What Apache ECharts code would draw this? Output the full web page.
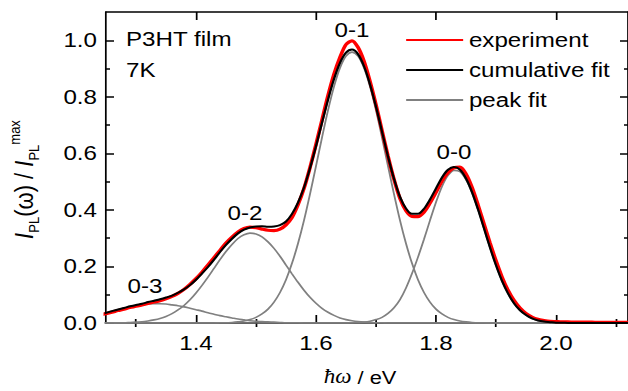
<!DOCTYPE html>
<html>
<head>
<meta charset="utf-8">
<title>P3HT film PL spectrum</title>
<script src="https://cdn.jsdelivr.net/npm/echarts@6/dist/echarts.min.js"></script>
<style>
  html, body { margin: 0; padding: 0; background: #fff; overflow: hidden; }
  /* the original figure is stretched horizontally, so the chart is drawn narrower and widened */
  #chart { width: 546px; height: 391px; transform: scaleX(1.15018); transform-origin: 0 0; }
</style>
</head>
<body>
<div id="chart"></div>
<script>
// photon energy (eV), 0.01 eV steps
const energy = [
  1.24, 1.25, 1.26, 1.27, 1.28, 1.29, 1.30, 1.31, 1.32, 1.33,
  1.34, 1.35, 1.36, 1.37, 1.38, 1.39, 1.40, 1.41, 1.42, 1.43,
  1.44, 1.45, 1.46, 1.47, 1.48, 1.49, 1.50, 1.51, 1.52, 1.53,
  1.54, 1.55, 1.56, 1.57, 1.58, 1.59, 1.60, 1.61, 1.62, 1.63,
  1.64, 1.65, 1.66, 1.67, 1.68, 1.69, 1.70, 1.71, 1.72, 1.73,
  1.74, 1.75, 1.76, 1.77, 1.78, 1.79, 1.80, 1.81, 1.82, 1.83,
  1.84, 1.85, 1.86, 1.87, 1.88, 1.89, 1.90, 1.91, 1.92, 1.93,
  1.94, 1.95, 1.96, 1.97, 1.98, 1.99, 2.00, 2.01, 2.02, 2.03,
  2.04, 2.05, 2.06, 2.07, 2.08, 2.09, 2.10, 2.11, 2.12, 2.13, 2.14];

const experiment = [
  0.029, 0.033, 0.038, 0.044, 0.049, 0.055, 0.059, 0.064, 0.069, 0.074,
  0.079, 0.086, 0.094, 0.105, 0.119, 0.137, 0.157, 0.180, 0.205, 0.231,
  0.257, 0.283, 0.304, 0.322, 0.334, 0.339, 0.337, 0.332, 0.328, 0.327,
  0.332, 0.347, 0.373, 0.418, 0.476, 0.550, 0.632, 0.718, 0.804, 0.880,
  0.940, 0.985, 0.998, 0.975, 0.926, 0.855, 0.772, 0.681, 0.590, 0.508,
  0.440, 0.397, 0.377, 0.376, 0.392, 0.424, 0.462, 0.502, 0.532, 0.549,
  0.551, 0.527, 0.480, 0.418, 0.350, 0.283, 0.220, 0.163, 0.116, 0.080,
  0.053, 0.034, 0.021, 0.013, 0.009, 0.006, 0.005, 0.004, 0.004, 0.003,
  0.003, 0.003, 0.003, 0.002, 0.002, 0.002, 0.002, 0.002, 0.002, 0.002, 0.002];

const cumulativeFit = [
  0.031, 0.036, 0.042, 0.048, 0.053, 0.059, 0.064, 0.068, 0.074, 0.079,
  0.084, 0.090, 0.097, 0.107, 0.119, 0.134, 0.153, 0.175, 0.198, 0.224,
  0.251, 0.276, 0.298, 0.317, 0.330, 0.338, 0.341, 0.342, 0.340, 0.341,
  0.346, 0.359, 0.386, 0.426, 0.479, 0.547, 0.625, 0.708, 0.790, 0.863,
  0.920, 0.956, 0.967, 0.951, 0.908, 0.844, 0.765, 0.677, 0.589, 0.510,
  0.446, 0.405, 0.386, 0.386, 0.404, 0.437, 0.476, 0.515, 0.542, 0.552,
  0.542, 0.511, 0.463, 0.402, 0.335, 0.267, 0.204, 0.149, 0.105, 0.070,
  0.045, 0.028, 0.016, 0.009, 0.005, 0.003, 0.001, 0.001, 0, 0,
  0, 0, 0, 0, 0, 0, 0, 0, 0, 0, 0];

// component peaks of the fit
const peak03 = [
  0.031, 0.036, 0.042, 0.047, 0.052, 0.057, 0.061, 0.064, 0.067, 0.068,
  0.068, 0.067, 0.064, 0.061, 0.057, 0.052, 0.047, 0.042, 0.036, 0.031,
  0.026, 0.022, 0.018, 0.014, 0.011, 0.008, 0.006, 0.005, 0.004, 0.003,
  0.002, 0.001, 0.001, 0.001, 0, 0, 0, 0, 0, 0,
  0, 0, 0, 0, 0, 0, 0, 0, 0, 0,
  0, 0, 0, 0, 0, 0, 0, 0, 0, 0,
  0, 0, 0, 0, 0, 0, 0, 0, 0, 0,
  0, 0, 0, 0, 0, 0, 0, 0, 0, 0,
  0, 0, 0, 0, 0, 0, 0, 0, 0, 0, 0];

const peak02 = [
  0, 0, 0, 0.001, 0.001, 0.002, 0.003, 0.004, 0.007, 0.011,
  0.016, 0.023, 0.033, 0.046, 0.062, 0.082, 0.106, 0.133, 0.162, 0.193,
  0.224, 0.253, 0.278, 0.299, 0.312, 0.318, 0.315, 0.305, 0.287, 0.264,
  0.236, 0.205, 0.174, 0.144, 0.116, 0.091, 0.070, 0.052, 0.038, 0.027,
  0.018, 0.012, 0.008, 0.005, 0.003, 0.002, 0.001, 0.001, 0, 0,
  0, 0, 0, 0, 0, 0, 0, 0, 0, 0,
  0, 0, 0, 0, 0, 0, 0, 0, 0, 0,
  0, 0, 0, 0, 0, 0, 0, 0, 0, 0,
  0, 0, 0, 0, 0, 0, 0, 0, 0, 0, 0];

const peak01 = [
  0, 0, 0, 0, 0, 0, 0, 0, 0, 0,
  0, 0, 0, 0, 0, 0, 0, 0, 0, 0,
  0.001, 0.001, 0.002, 0.004, 0.007, 0.012, 0.020, 0.032, 0.049, 0.074,
  0.108, 0.153, 0.211, 0.281, 0.363, 0.456, 0.555, 0.656, 0.752, 0.836,
  0.902, 0.944, 0.958, 0.944, 0.902, 0.836, 0.752, 0.656, 0.555, 0.456,
  0.363, 0.281, 0.211, 0.153, 0.108, 0.074, 0.049, 0.032, 0.020, 0.012,
  0.007, 0.004, 0.002, 0.001, 0.001, 0, 0, 0, 0, 0,
  0, 0, 0, 0, 0, 0, 0, 0, 0, 0,
  0, 0, 0, 0, 0, 0, 0, 0, 0, 0, 0];

const peak00 = [
  0, 0, 0, 0, 0, 0, 0, 0, 0, 0,
  0, 0, 0, 0, 0, 0, 0, 0, 0, 0,
  0, 0, 0, 0, 0, 0, 0, 0, 0, 0,
  0, 0, 0, 0, 0, 0, 0, 0, 0, 0,
  0, 0, 0.001, 0.002, 0.003, 0.006, 0.012, 0.020, 0.034, 0.054,
  0.083, 0.124, 0.175, 0.233, 0.296, 0.363, 0.427, 0.483, 0.522, 0.540,
  0.535, 0.507, 0.461, 0.401, 0.334, 0.267, 0.204, 0.149, 0.105, 0.070,
  0.045, 0.028, 0.016, 0.009, 0.005, 0.003, 0.001, 0.001, 0, 0,
  0, 0, 0, 0, 0, 0, 0, 0, 0, 0, 0];

const xMajorTicks = [1.4, 1.6, 1.8, 2.0];
const xMinorTicks = [1.3, 1.5, 1.7, 1.9, 2.1];
const yMajorTicks = [0, 0.2, 0.4, 0.6, 0.8, 1.0];
const yMinorTicks = [0.1, 0.3, 0.5, 0.7, 0.9];

const peakLabels = ["0-3", "0-2", "0-1", "0-0"];

const FONT = "Liberation Sans, Arial, sans-serif";
const X_MIN = 1.25, X_MAX = 2.12, Y_MIN = 0, Y_MAX = 1.1;
// horizontal stretch of the page: horizontal pixel targets are divided by it
const SX = 628 / 546;

function pairs(values) {
  return energy.map((e, i) => [e, values[i]]);
}

function frameAxis(position, min, max, ticks, len, opts) {
  return Object.assign({
    type: "value",
    position: position,
    min: min,
    max: max,
    axisLine: { show: true, onZero: false, lineStyle: { color: "#000", width: 1.5 } },
    axisTick: { show: true, inside: true, length: len, customValues: ticks, lineStyle: { color: "#000", width: 1.5 } },
    axisLabel: { show: false },
    splitLine: { show: false },
  }, opts || {});
}

function peakSeries(values) {
  return {
    name: "peak fit",
    type: "line",
    data: pairs(values),
    smooth: 0.3,
    symbol: "none",
    color: "#808080",
    lineStyle: { color: "#808080", width: 1.6 },
    z: 2,
  };
}

function annotation(text, x, y, align) {
  return {
    type: "text",
    x: x / SX,
    y: y,
    style: { text: text, fontFamily: FONT, fontSize: 21, fill: "#000", align: align, verticalAlign: "middle" },
  };
}

const chart = echarts.init(document.getElementById("chart"), null, { renderer: "svg" });

chart.setOption({
  animation: false,
  backgroundColor: "#fff",
  textStyle: { fontFamily: FONT, color: "#000" },
  grid: { left: 106 / SX, right: 0, top: 12, bottom: 68, containLabel: false, outerBoundsMode: "none" },
  legend: {
    data: ["experiment", "cumulative fit", "peak fit"],
    orient: "vertical",
    left: 405 / SX,
    top: 29,
    padding: 0,
    itemWidth: 57 / SX,
    itemHeight: 14,
    itemGap: 8,
    itemStyle: { opacity: 0 },
    textStyle: { fontFamily: FONT, fontSize: 21, color: "#000", lineHeight: 22 },
  },
  xAxis: [
    frameAxis("bottom", X_MIN, X_MAX, xMajorTicks, 8, {
      axisLabel: {
        show: true,
        customValues: xMajorTicks,
        margin: 10,
        fontSize: 21,
        fontFamily: FONT,
        color: "#000",
        formatter: (v) => v.toFixed(1),
      },
      name: "{it|ħω}{t| / eV}",
      nameLocation: "middle",
      nameGap: 45,
      nameTextStyle: {
        padding: [0, 12, 0, 0],
        rich: {
          it: { fontFamily: "Liberation Serif, serif", fontStyle: "italic", fontSize: 20, color: "#000", lineHeight: 18 },
          t: { fontFamily: FONT, fontSize: 19, color: "#000", lineHeight: 18 },
        },
      },
    }),
    frameAxis("bottom", X_MIN, X_MAX, xMinorTicks, 4, { axisLine: { show: false } }),
    frameAxis("top", X_MIN, X_MAX, xMajorTicks, 8),
    frameAxis("top", X_MIN, X_MAX, xMinorTicks, 4, { axisLine: { show: false } }),
  ],
  yAxis: [
    frameAxis("left", Y_MIN, Y_MAX, yMajorTicks, 8 / SX, {
      axisLabel: {
        show: true,
        customValues: yMajorTicks,
        margin: 9 / SX,
        fontSize: 21,
        fontFamily: FONT,
        color: "#000",
        formatter: (v) => v.toFixed(1),
      },
      name: "{i|I}{sub|PL}{t|(ω) / }{i|I}{sub|PL}{sup|max}",
      nameLocation: "middle",
      nameRotate: 90,
      nameGap: 56,
      nameTextStyle: {
        padding: [0, 24, 0, 0],
        rich: {
          i: { fontFamily: FONT, fontStyle: "italic", fontSize: 22, color: "#000", lineHeight: 30 },
          t: { fontFamily: FONT, fontSize: 22, color: "#000", lineHeight: 30 },
          sub: { fontFamily: FONT, fontSize: 13, color: "#000", lineHeight: 14, verticalAlign: "bottom" },
          sup: { fontFamily: FONT, fontSize: 13, color: "#000", lineHeight: 14, verticalAlign: "top" },
        },
      },
    }),
    frameAxis("left", Y_MIN, Y_MAX, yMinorTicks, 4 / SX, { axisLine: { show: false } }),
    frameAxis("right", Y_MIN, Y_MAX, yMajorTicks, 8 / SX),
    frameAxis("right", Y_MIN, Y_MAX, yMinorTicks, 4 / SX, { axisLine: { show: false } }),
  ],
  graphic: [
    annotation("P3HT film", 126, 39, "left"),
    annotation("7K", 126, 70, "left"),
    annotation(peakLabels[0], 145, 286, "center"),
    annotation(peakLabels[1], 245, 213, "center"),
    annotation(peakLabels[2], 352, 30, "center"),
    annotation(peakLabels[3], 454, 152, "center"),
  ],
  series: [
    peakSeries(peak03),
    peakSeries(peak02),
    peakSeries(peak01),
    peakSeries(peak00),
    {
      name: "experiment",
      type: "line",
      data: pairs(experiment),
      smooth: 0.3,
      symbol: "none",
      color: "#ff0000",
      lineStyle: { color: "#ff0000", width: 3.2 },
      z: 3,
    },
    {
      name: "cumulative fit",
      type: "line",
      data: pairs(cumulativeFit),
      smooth: 0.3,
      symbol: "none",
      color: "#000",
      lineStyle: { color: "#000", width: 2 },
      z: 4,
    },
  ],
});
</script>
</body>
</html>
